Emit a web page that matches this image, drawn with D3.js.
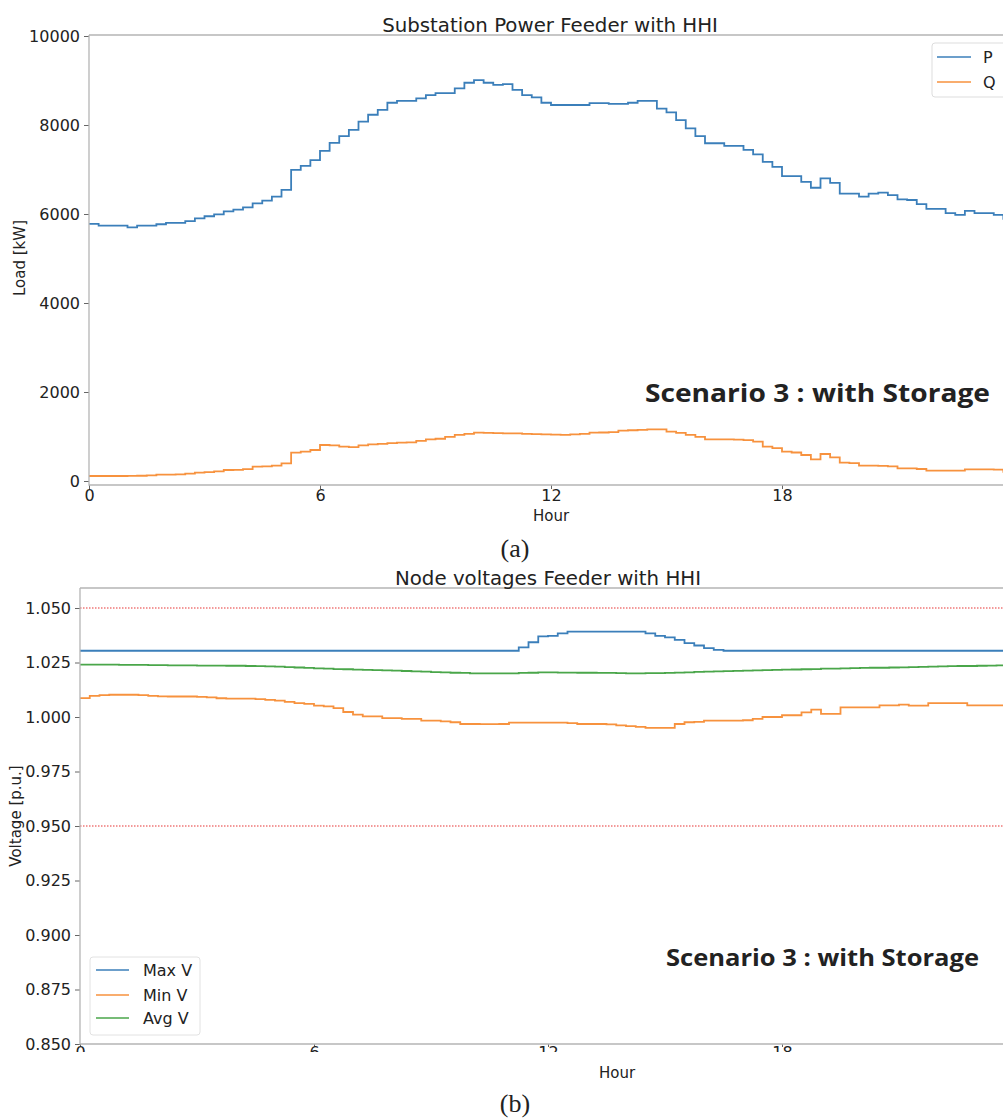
<!DOCTYPE html>
<html><head><meta charset="utf-8">
<script src="https://cdn.jsdelivr.net/npm/d3@7"></script>
<style>
body{margin:0;background:#fff;}
svg{display:block;}
text{font-family:"DejaVu Sans",sans-serif;fill:#222;}
</style></head>
<body><svg id="c" width="1003" height="1119"></svg>
<script>
// ---------- data (15-minute resolution, hour 0 .. 23.75) ----------
const P = [5780,5740,5740,5740,5700,5740,5740,5770,5800,5800,5840,5900,5950,5990,6060,6100,
6150,6240,6300,6390,6540,6990,7080,7210,7420,7600,7750,7890,8075,8230,8340,8500,
8540,8540,8600,8670,8715,8715,8825,8950,9010,8950,8900,8920,8790,8670,8620,8500,
8450,8450,8450,8450,8490,8490,8475,8475,8500,8540,8540,8370,8285,8110,7925,7750,
7590,7590,7530,7530,7440,7340,7170,7060,6850,6850,6720,6590,6800,6700,6460,6460,
6390,6460,6480,6425,6330,6315,6220,6115,6115,6020,5980,6070,6020,6020,5980,5870];
const Q = [112,112,112,112,115,118,125,142,142,150,165,187,200,215,247,250,
265,322,330,345,397,637,660,697,809,800,772,760,800,824,835,850,
862,870,900,937,950,990,1035,1060,1087,1080,1075,1072,1072,1060,1055,1050,
1040,1035,1050,1060,1087,1090,1100,1132,1140,1150,1162,1160,1110,1080,1035,990,
937,937,937,930,920,884,772,740,659,640,584,487,607,532,412,400,
345,345,340,330,285,285,270,232,232,232,232,262,262,262,255,187];
const maxV = [1.0304,1.0304,1.0304,1.0304,1.0304,1.0304,1.0304,1.0304,1.0304,1.0304,1.0304,1.0304,1.0304,1.0304,1.0304,1.0304,
1.0304,1.0304,1.0304,1.0304,1.0304,1.0304,1.0304,1.0304,1.0304,1.0304,1.0304,1.0304,1.0304,1.0304,1.0304,1.0304,
1.0304,1.0304,1.0304,1.0304,1.0304,1.0304,1.0304,1.0304,1.0304,1.0304,1.0304,1.0304,1.0304,1.0319,1.0343,1.0370,
1.0372,1.0384,1.0392,1.0392,1.0392,1.0392,1.0392,1.0392,1.0392,1.0392,1.0384,1.0372,1.0365,1.0354,1.0339,1.0328,
1.0316,1.0308,1.0304,1.0304,1.0304,1.0304,1.0304,1.0304,1.0304,1.0304,1.0304,1.0304,1.0304,1.0304,1.0304,1.0304,
1.0304,1.0304,1.0304,1.0304,1.0304,1.0304,1.0304,1.0304,1.0304,1.0304,1.0304,1.0304,1.0304,1.0304,1.0304,1.0304];
const minV = [1.0087,1.0097,1.0100,1.0102,1.0102,1.0102,1.0100,1.0097,1.0095,1.0094,1.0094,1.0094,1.0092,1.0090,1.0086,1.0084,
1.0084,1.0084,1.0082,1.0079,1.0075,1.0069,1.0064,1.0060,1.0052,1.0049,1.0041,1.0023,1.0011,1.0003,1.0003,0.9995,
0.9995,0.9991,0.9991,0.9983,0.9983,0.9980,0.9976,0.9968,0.9968,0.9967,0.9967,0.9968,0.9974,0.9974,0.9974,0.9974,
0.9974,0.9974,0.9972,0.9968,0.9968,0.9968,0.9966,0.9962,0.9958,0.9955,0.9950,0.9950,0.9950,0.9968,0.9976,0.9978,
0.9983,0.9983,0.9983,0.9983,0.9985,0.9991,1.0000,1.0000,1.0008,1.0008,1.0021,1.0034,1.0014,1.0014,1.0044,1.0044,
1.0044,1.0044,1.0053,1.0053,1.0057,1.0052,1.0052,1.0064,1.0064,1.0064,1.0064,1.0053,1.0053,1.0053,1.0053,1.0064];
const avgV = [1.0240,1.0240,1.0240,1.0240,1.0239,1.0239,1.0239,1.0238,1.0238,1.0237,1.0237,1.0237,1.0236,1.0236,1.0236,1.0235,
1.0235,1.0234,1.0233,1.0232,1.0231,1.0229,1.0227,1.0225,1.0223,1.0222,1.0220,1.0219,1.0217,1.0216,1.0215,1.0214,
1.0213,1.0211,1.0209,1.0208,1.0206,1.0205,1.0203,1.0202,1.0200,1.0200,1.0200,1.0200,1.0200,1.0202,1.0203,1.0205,
1.0205,1.0204,1.0204,1.0203,1.0203,1.0202,1.0202,1.0201,1.0200,1.0200,1.0201,1.0201,1.0202,1.0204,1.0205,1.0207,
1.0208,1.0209,1.0210,1.0212,1.0213,1.0214,1.0215,1.0216,1.0217,1.0218,1.0219,1.0220,1.0222,1.0222,1.0223,1.0224,
1.0225,1.0226,1.0226,1.0227,1.0228,1.0229,1.0230,1.0231,1.0232,1.0233,1.0234,1.0234,1.0235,1.0236,1.0237,1.0238];
const hours = d3.range(P.length).map(i => i / 4);
const hourTicks = [0, 6, 12, 18];
const loadTicks = [0, 2000, 4000, 6000, 8000, 10000];
const voltTicks = [0.850, 0.875, 0.900, 0.925, 0.950, 0.975, 1.000, 1.025, 1.050];
const limits = [1.05, 0.95];
const titles = ["Substation Power Feeder with HHI", "Node voltages Feeder with HHI"];
const scenario = "Scenario 3 : with Storage";

const C = {blue:"#3b7fba", orange:"#f7923e", green:"#4aa64a", red:"#f07878", spine:"#b5b5b5"};
const svg = d3.select("#c");

function frame(g, x0, x1, y0, y1) {
  g.append("path").attr("d", `M${x0},${y0}H${x1}M${x0},${y0}V${y1}H${x1}`)
   .attr("fill","none").attr("stroke",C.spine).attr("stroke-width",1.3);
}
function styleAxis(a) {
  a.select(".domain").remove();
  a.selectAll(".tick line").attr("stroke","#666").attr("stroke-width",1);
  a.selectAll(".tick text").style("font-family","DejaVu Sans").style("font-size","16px").attr("fill","#222");
}

// ================= chart (a) =================
{
  const L = 89, T = 35, B = 485;
  const x = d3.scaleLinear().domain([0,24]).range([L, L + 24*38.5]);
  const y = d3.scaleLinear().domain([0,10000]).range([481, 36]);
  const g = svg.append("g");
  const ya = g.append("g").attr("transform",`translate(${L},0)`)
    .call(d3.axisLeft(y).tickValues(loadTicks).tickSize(5).tickPadding(4).tickFormat(d3.format("d")));
  styleAxis(ya);
  const xa = g.append("g").attr("transform",`translate(0,${B})`)
    .call(d3.axisBottom(x).tickValues(hourTicks).tickSize(4).tickPadding(1));
  styleAxis(xa);
  const line = d3.line().x((d,i)=>x(hours[i])).y(d=>y(d)).curve(d3.curveStepAfter);
  g.append("path").datum(P).attr("d",line).attr("fill","none").attr("stroke",C.blue).attr("stroke-width",1.8);
  g.append("path").datum(Q).attr("d",line).attr("fill","none").attr("stroke",C.orange).attr("stroke-width",1.8);
  frame(g, L, 1003, T, B);
  g.append("text").attr("x",550).attr("y",32).attr("text-anchor","middle").style("font-size","19.8px").text(titles[0]);
  g.append("text").attr("transform","translate(25,258) rotate(-90)").attr("text-anchor","middle").style("font-size","15px").text("Load [kW]");
  g.append("text").attr("x",551).attr("y",521).attr("text-anchor","middle").style("font-size","15px").text("Hour");
  g.append("text").attr("x",515).attr("y",557).attr("text-anchor","middle")
    .style("font-family","Liberation Serif").style("font-size","26px").text("(a)");
  g.append("text").attr("x",645).attr("y",402).attr("textLength",345).attr("lengthAdjust","spacingAndGlyphs")
    .style("font-family","Open Sans").style("font-weight","bold").style("font-size","25px").attr("fill","#2a2a2a").text(scenario);
  // legend
  const lg = g.append("g");
  lg.append("rect").attr("x",932).attr("y",43).attr("width",80).attr("height",54).attr("rx",3)
    .attr("fill","#fff").attr("stroke","#ddd");
  [["P",C.blue,57],["Q",C.orange,82]].forEach(([t,c,yy])=>{
    lg.append("line").attr("x1",937).attr("x2",971).attr("y1",yy).attr("y2",yy).attr("stroke",c).attr("stroke-width",1.6);
    lg.append("text").attr("x",983).attr("y",yy+5.5).style("font-size","16px").text(t);
  });
}

// ================= chart (b) =================
{
  const L = 80, T = 588, B = 1044;
  const x = d3.scaleLinear().domain([0,24]).range([L, L + 24*39]);
  const y = d3.scaleLinear().domain([0.85,1.06]).range([B, B - 0.21*2180]);
  const g = svg.append("g");
  const ya = g.append("g").attr("transform",`translate(${L},0)`)
    .call(d3.axisLeft(y).tickValues(voltTicks).tickSize(5).tickPadding(4).tickFormat(d3.format(".3f")));
  styleAxis(ya);
  // tick labels on the hour axis are cut off in the original, only their tops show
  svg.append("clipPath").attr("id","xclip").append("rect").attr("x",0).attr("y",-2).attr("width",1003).attr("height",10);
  const xa = g.append("g").attr("transform",`translate(0,${B})`).attr("clip-path","url(#xclip)")
    .call(d3.axisBottom(x).tickValues(hourTicks).tickSize(3).tickPadding(0));
  styleAxis(xa);
  limits.forEach(v=>{
    g.append("line").attr("x1",L).attr("x2",1003).attr("y1",y(v)).attr("y2",y(v))
      .attr("stroke",C.red).attr("stroke-width",1.4).attr("stroke-dasharray","1.5,1.5");
  });
  const line = d3.line().x((d,i)=>x(hours[i])).y(d=>y(d)).curve(d3.curveStepAfter);
  [[maxV,C.blue],[minV,C.orange],[avgV,C.green]].forEach(([s,c])=>{
    g.append("path").datum(s).attr("d",line).attr("fill","none").attr("stroke",c).attr("stroke-width",1.8);
  });
  frame(g, L, 1003, T, B);
  g.append("text").attr("x",548).attr("y",585).attr("text-anchor","middle").style("font-size","19.8px").text(titles[1]);
  g.append("text").attr("transform","translate(21,816) rotate(-90)").attr("text-anchor","middle").style("font-size","15px").text("Voltage [p.u.]");
  g.append("text").attr("x",617).attr("y",1078).attr("text-anchor","middle").style("font-size","15px").text("Hour");
  g.append("text").attr("x",515).attr("y",1112).attr("text-anchor","middle")
    .style("font-family","Liberation Serif").style("font-size","26px").text("(b)");
  g.append("text").attr("x",666).attr("y",966).attr("textLength",313).attr("lengthAdjust","spacingAndGlyphs")
    .style("font-family","Open Sans").style("font-weight","bold").style("font-size","23px").attr("fill","#2a2a2a").text(scenario);
  const lg = g.append("g");
  lg.append("rect").attr("x",90).attr("y",957).attr("width",110).attr("height",78).attr("rx",3)
    .attr("fill","#fff").attr("stroke","#e2e2e2");
  [["Max V",C.blue,970],["Min V",C.orange,995],["Avg V",C.green,1018]].forEach(([t,c,yy])=>{
    lg.append("line").attr("x1",96).attr("x2",129).attr("y1",yy).attr("y2",yy).attr("stroke",c).attr("stroke-width",1.6);
    lg.append("text").attr("x",143).attr("y",yy+5.5).style("font-size","16px").text(t);
  });
}
</script></body></html>
